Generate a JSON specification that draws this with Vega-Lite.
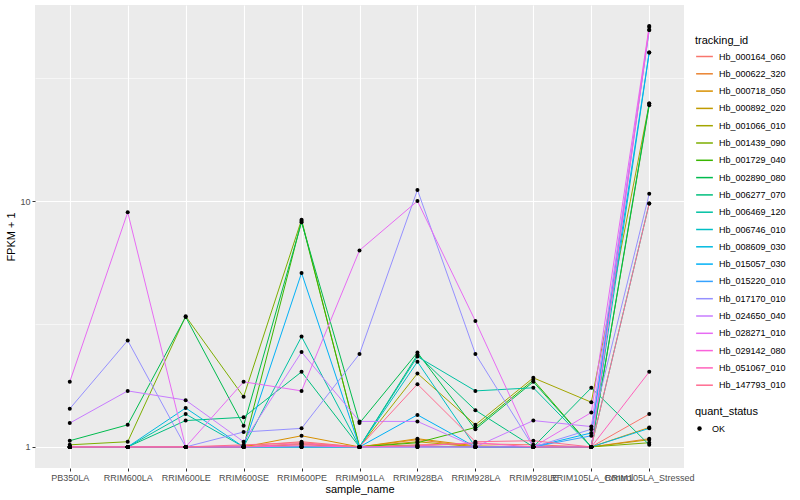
{
  "$schema": "https://vega.github.io/schema/vega-lite/v6.json",
  "width": 649,
  "height": 463,
  "autosize": {"type": "none"},
  "padding": {"left": 35, "top": 5, "right": 116, "bottom": 32},
  "background": "white",
  "config": {
    "font": "Liberation Sans",
    "view": {"fill": "#EBEBEB", "stroke": null},
    "axis": {"domain": false, "gridColor": "white", "tickColor": "#333333", "tickSize": 3, "labelColor": "#4D4D4D", "labelFontSize": 9, "titleFontSize": 11, "titleFontWeight": "normal", "titleColor": "black", "labelPadding": 2},
    "legend": {"orient": "none", "titleFontSize": 11, "titleFontWeight": "normal", "titleColor": "black", "labelFontSize": 9, "labelColor": "black", "rowPadding": 2.3, "titlePadding": 1}
  },
  "data": {"values": [
    {"tracking_id":"Hb_000164_060","sample_name":"PB350LA","fpkm":1.0,"quant_status":"OK"},
    {"tracking_id":"Hb_000164_060","sample_name":"RRIM600LA","fpkm":1.0,"quant_status":"OK"},
    {"tracking_id":"Hb_000164_060","sample_name":"RRIM600LE","fpkm":1.0,"quant_status":"OK"},
    {"tracking_id":"Hb_000164_060","sample_name":"RRIM600SE","fpkm":1.01,"quant_status":"OK"},
    {"tracking_id":"Hb_000164_060","sample_name":"RRIM600PE","fpkm":1.05,"quant_status":"OK"},
    {"tracking_id":"Hb_000164_060","sample_name":"RRIM901LA","fpkm":1.0,"quant_status":"OK"},
    {"tracking_id":"Hb_000164_060","sample_name":"RRIM928BA","fpkm":1.02,"quant_status":"OK"},
    {"tracking_id":"Hb_000164_060","sample_name":"RRIM928LA","fpkm":1.03,"quant_status":"OK"},
    {"tracking_id":"Hb_000164_060","sample_name":"RRIM928LE","fpkm":1.02,"quant_status":"OK"},
    {"tracking_id":"Hb_000164_060","sample_name":"RRIM105LA_Control","fpkm":1.0,"quant_status":"OK"},
    {"tracking_id":"Hb_000164_060","sample_name":"RRIM105LA_Stressed","fpkm":1.36,"quant_status":"OK"},
    {"tracking_id":"Hb_000622_320","sample_name":"PB350LA","fpkm":1.0,"quant_status":"OK"},
    {"tracking_id":"Hb_000622_320","sample_name":"RRIM600LA","fpkm":1.0,"quant_status":"OK"},
    {"tracking_id":"Hb_000622_320","sample_name":"RRIM600LE","fpkm":1.0,"quant_status":"OK"},
    {"tracking_id":"Hb_000622_320","sample_name":"RRIM600SE","fpkm":1.0,"quant_status":"OK"},
    {"tracking_id":"Hb_000622_320","sample_name":"RRIM600PE","fpkm":1.02,"quant_status":"OK"},
    {"tracking_id":"Hb_000622_320","sample_name":"RRIM901LA","fpkm":1.0,"quant_status":"OK"},
    {"tracking_id":"Hb_000622_320","sample_name":"RRIM928BA","fpkm":1.07,"quant_status":"OK"},
    {"tracking_id":"Hb_000622_320","sample_name":"RRIM928LA","fpkm":1.0,"quant_status":"OK"},
    {"tracking_id":"Hb_000622_320","sample_name":"RRIM928LE","fpkm":1.0,"quant_status":"OK"},
    {"tracking_id":"Hb_000622_320","sample_name":"RRIM105LA_Control","fpkm":1.0,"quant_status":"OK"},
    {"tracking_id":"Hb_000622_320","sample_name":"RRIM105LA_Stressed","fpkm":1.08,"quant_status":"OK"},
    {"tracking_id":"Hb_000718_050","sample_name":"PB350LA","fpkm":1.0,"quant_status":"OK"},
    {"tracking_id":"Hb_000718_050","sample_name":"RRIM600LA","fpkm":1.0,"quant_status":"OK"},
    {"tracking_id":"Hb_000718_050","sample_name":"RRIM600LE","fpkm":1.0,"quant_status":"OK"},
    {"tracking_id":"Hb_000718_050","sample_name":"RRIM600SE","fpkm":1.0,"quant_status":"OK"},
    {"tracking_id":"Hb_000718_050","sample_name":"RRIM600PE","fpkm":1.11,"quant_status":"OK"},
    {"tracking_id":"Hb_000718_050","sample_name":"RRIM901LA","fpkm":1.0,"quant_status":"OK"},
    {"tracking_id":"Hb_000718_050","sample_name":"RRIM928BA","fpkm":1.08,"quant_status":"OK"},
    {"tracking_id":"Hb_000718_050","sample_name":"RRIM928LA","fpkm":1.01,"quant_status":"OK"},
    {"tracking_id":"Hb_000718_050","sample_name":"RRIM928LE","fpkm":1.0,"quant_status":"OK"},
    {"tracking_id":"Hb_000718_050","sample_name":"RRIM105LA_Control","fpkm":1.0,"quant_status":"OK"},
    {"tracking_id":"Hb_000718_050","sample_name":"RRIM105LA_Stressed","fpkm":1.2,"quant_status":"OK"},
    {"tracking_id":"Hb_000892_020","sample_name":"PB350LA","fpkm":1.0,"quant_status":"OK"},
    {"tracking_id":"Hb_000892_020","sample_name":"RRIM600LA","fpkm":1.0,"quant_status":"OK"},
    {"tracking_id":"Hb_000892_020","sample_name":"RRIM600LE","fpkm":1.0,"quant_status":"OK"},
    {"tracking_id":"Hb_000892_020","sample_name":"RRIM600SE","fpkm":1.0,"quant_status":"OK"},
    {"tracking_id":"Hb_000892_020","sample_name":"RRIM600PE","fpkm":1.03,"quant_status":"OK"},
    {"tracking_id":"Hb_000892_020","sample_name":"RRIM901LA","fpkm":1.0,"quant_status":"OK"},
    {"tracking_id":"Hb_000892_020","sample_name":"RRIM928BA","fpkm":1.05,"quant_status":"OK"},
    {"tracking_id":"Hb_000892_020","sample_name":"RRIM928LA","fpkm":1.0,"quant_status":"OK"},
    {"tracking_id":"Hb_000892_020","sample_name":"RRIM928LE","fpkm":1.0,"quant_status":"OK"},
    {"tracking_id":"Hb_000892_020","sample_name":"RRIM105LA_Control","fpkm":1.0,"quant_status":"OK"},
    {"tracking_id":"Hb_000892_020","sample_name":"RRIM105LA_Stressed","fpkm":1.07,"quant_status":"OK"},
    {"tracking_id":"Hb_001066_010","sample_name":"PB350LA","fpkm":1.0,"quant_status":"OK"},
    {"tracking_id":"Hb_001066_010","sample_name":"RRIM600LA","fpkm":1.0,"quant_status":"OK"},
    {"tracking_id":"Hb_001066_010","sample_name":"RRIM600LE","fpkm":1.0,"quant_status":"OK"},
    {"tracking_id":"Hb_001066_010","sample_name":"RRIM600SE","fpkm":1.0,"quant_status":"OK"},
    {"tracking_id":"Hb_001066_010","sample_name":"RRIM600PE","fpkm":1.0,"quant_status":"OK"},
    {"tracking_id":"Hb_001066_010","sample_name":"RRIM901LA","fpkm":1.0,"quant_status":"OK"},
    {"tracking_id":"Hb_001066_010","sample_name":"RRIM928BA","fpkm":1.99,"quant_status":"OK"},
    {"tracking_id":"Hb_001066_010","sample_name":"RRIM928LA","fpkm":1.23,"quant_status":"OK"},
    {"tracking_id":"Hb_001066_010","sample_name":"RRIM928LE","fpkm":1.91,"quant_status":"OK"},
    {"tracking_id":"Hb_001066_010","sample_name":"RRIM105LA_Control","fpkm":1.52,"quant_status":"OK"},
    {"tracking_id":"Hb_001066_010","sample_name":"RRIM105LA_Stressed","fpkm":24.9,"quant_status":"OK"},
    {"tracking_id":"Hb_001439_090","sample_name":"PB350LA","fpkm":1.02,"quant_status":"OK"},
    {"tracking_id":"Hb_001439_090","sample_name":"RRIM600LA","fpkm":1.05,"quant_status":"OK"},
    {"tracking_id":"Hb_001439_090","sample_name":"RRIM600LE","fpkm":3.4,"quant_status":"OK"},
    {"tracking_id":"Hb_001439_090","sample_name":"RRIM600SE","fpkm":1.6,"quant_status":"OK"},
    {"tracking_id":"Hb_001439_090","sample_name":"RRIM600PE","fpkm":8.4,"quant_status":"OK"},
    {"tracking_id":"Hb_001439_090","sample_name":"RRIM901LA","fpkm":1.0,"quant_status":"OK"},
    {"tracking_id":"Hb_001439_090","sample_name":"RRIM928BA","fpkm":1.01,"quant_status":"OK"},
    {"tracking_id":"Hb_001439_090","sample_name":"RRIM928LA","fpkm":1.0,"quant_status":"OK"},
    {"tracking_id":"Hb_001439_090","sample_name":"RRIM928LE","fpkm":1.0,"quant_status":"OK"},
    {"tracking_id":"Hb_001439_090","sample_name":"RRIM105LA_Control","fpkm":1.0,"quant_status":"OK"},
    {"tracking_id":"Hb_001439_090","sample_name":"RRIM105LA_Stressed","fpkm":1.04,"quant_status":"OK"},
    {"tracking_id":"Hb_001729_040","sample_name":"PB350LA","fpkm":1.0,"quant_status":"OK"},
    {"tracking_id":"Hb_001729_040","sample_name":"RRIM600LA","fpkm":1.0,"quant_status":"OK"},
    {"tracking_id":"Hb_001729_040","sample_name":"RRIM600LE","fpkm":1.0,"quant_status":"OK"},
    {"tracking_id":"Hb_001729_040","sample_name":"RRIM600SE","fpkm":1.0,"quant_status":"OK"},
    {"tracking_id":"Hb_001729_040","sample_name":"RRIM600PE","fpkm":8.3,"quant_status":"OK"},
    {"tracking_id":"Hb_001729_040","sample_name":"RRIM901LA","fpkm":1.0,"quant_status":"OK"},
    {"tracking_id":"Hb_001729_040","sample_name":"RRIM928BA","fpkm":1.04,"quant_status":"OK"},
    {"tracking_id":"Hb_001729_040","sample_name":"RRIM928LA","fpkm":1.2,"quant_status":"OK"},
    {"tracking_id":"Hb_001729_040","sample_name":"RRIM928LE","fpkm":1.87,"quant_status":"OK"},
    {"tracking_id":"Hb_001729_040","sample_name":"RRIM105LA_Control","fpkm":1.0,"quant_status":"OK"},
    {"tracking_id":"Hb_001729_040","sample_name":"RRIM105LA_Stressed","fpkm":24.5,"quant_status":"OK"},
    {"tracking_id":"Hb_002890_080","sample_name":"PB350LA","fpkm":1.06,"quant_status":"OK"},
    {"tracking_id":"Hb_002890_080","sample_name":"RRIM600LA","fpkm":1.23,"quant_status":"OK"},
    {"tracking_id":"Hb_002890_080","sample_name":"RRIM600LE","fpkm":3.38,"quant_status":"OK"},
    {"tracking_id":"Hb_002890_080","sample_name":"RRIM600SE","fpkm":1.22,"quant_status":"OK"},
    {"tracking_id":"Hb_002890_080","sample_name":"RRIM600PE","fpkm":8.2,"quant_status":"OK"},
    {"tracking_id":"Hb_002890_080","sample_name":"RRIM901LA","fpkm":1.25,"quant_status":"OK"},
    {"tracking_id":"Hb_002890_080","sample_name":"RRIM928BA","fpkm":2.42,"quant_status":"OK"},
    {"tracking_id":"Hb_002890_080","sample_name":"RRIM928LA","fpkm":1.18,"quant_status":"OK"},
    {"tracking_id":"Hb_002890_080","sample_name":"RRIM928LE","fpkm":1.84,"quant_status":"OK"},
    {"tracking_id":"Hb_002890_080","sample_name":"RRIM105LA_Control","fpkm":1.0,"quant_status":"OK"},
    {"tracking_id":"Hb_002890_080","sample_name":"RRIM105LA_Stressed","fpkm":24.9,"quant_status":"OK"},
    {"tracking_id":"Hb_006277_070","sample_name":"PB350LA","fpkm":1.0,"quant_status":"OK"},
    {"tracking_id":"Hb_006277_070","sample_name":"RRIM600LA","fpkm":1.0,"quant_status":"OK"},
    {"tracking_id":"Hb_006277_070","sample_name":"RRIM600LE","fpkm":1.28,"quant_status":"OK"},
    {"tracking_id":"Hb_006277_070","sample_name":"RRIM600SE","fpkm":1.32,"quant_status":"OK"},
    {"tracking_id":"Hb_006277_070","sample_name":"RRIM600PE","fpkm":2.02,"quant_status":"OK"},
    {"tracking_id":"Hb_006277_070","sample_name":"RRIM901LA","fpkm":1.0,"quant_status":"OK"},
    {"tracking_id":"Hb_006277_070","sample_name":"RRIM928BA","fpkm":2.37,"quant_status":"OK"},
    {"tracking_id":"Hb_006277_070","sample_name":"RRIM928LA","fpkm":1.41,"quant_status":"OK"},
    {"tracking_id":"Hb_006277_070","sample_name":"RRIM928LE","fpkm":1.0,"quant_status":"OK"},
    {"tracking_id":"Hb_006277_070","sample_name":"RRIM105LA_Control","fpkm":1.74,"quant_status":"OK"},
    {"tracking_id":"Hb_006277_070","sample_name":"RRIM105LA_Stressed","fpkm":1.02,"quant_status":"OK"},
    {"tracking_id":"Hb_006469_120","sample_name":"PB350LA","fpkm":1.0,"quant_status":"OK"},
    {"tracking_id":"Hb_006469_120","sample_name":"RRIM600LA","fpkm":1.0,"quant_status":"OK"},
    {"tracking_id":"Hb_006469_120","sample_name":"RRIM600LE","fpkm":1.36,"quant_status":"OK"},
    {"tracking_id":"Hb_006469_120","sample_name":"RRIM600SE","fpkm":1.0,"quant_status":"OK"},
    {"tracking_id":"Hb_006469_120","sample_name":"RRIM600PE","fpkm":2.81,"quant_status":"OK"},
    {"tracking_id":"Hb_006469_120","sample_name":"RRIM901LA","fpkm":1.0,"quant_status":"OK"},
    {"tracking_id":"Hb_006469_120","sample_name":"RRIM928BA","fpkm":2.33,"quant_status":"OK"},
    {"tracking_id":"Hb_006469_120","sample_name":"RRIM928LA","fpkm":1.69,"quant_status":"OK"},
    {"tracking_id":"Hb_006469_120","sample_name":"RRIM928LE","fpkm":1.74,"quant_status":"OK"},
    {"tracking_id":"Hb_006469_120","sample_name":"RRIM105LA_Control","fpkm":1.0,"quant_status":"OK"},
    {"tracking_id":"Hb_006469_120","sample_name":"RRIM105LA_Stressed","fpkm":9.77,"quant_status":"OK"},
    {"tracking_id":"Hb_006746_010","sample_name":"PB350LA","fpkm":1.0,"quant_status":"OK"},
    {"tracking_id":"Hb_006746_010","sample_name":"RRIM600LA","fpkm":1.0,"quant_status":"OK"},
    {"tracking_id":"Hb_006746_010","sample_name":"RRIM600LE","fpkm":1.0,"quant_status":"OK"},
    {"tracking_id":"Hb_006746_010","sample_name":"RRIM600SE","fpkm":1.0,"quant_status":"OK"},
    {"tracking_id":"Hb_006746_010","sample_name":"RRIM600PE","fpkm":1.0,"quant_status":"OK"},
    {"tracking_id":"Hb_006746_010","sample_name":"RRIM901LA","fpkm":1.0,"quant_status":"OK"},
    {"tracking_id":"Hb_006746_010","sample_name":"RRIM928BA","fpkm":2.22,"quant_status":"OK"},
    {"tracking_id":"Hb_006746_010","sample_name":"RRIM928LA","fpkm":1.0,"quant_status":"OK"},
    {"tracking_id":"Hb_006746_010","sample_name":"RRIM928LE","fpkm":1.0,"quant_status":"OK"},
    {"tracking_id":"Hb_006746_010","sample_name":"RRIM105LA_Control","fpkm":1.0,"quant_status":"OK"},
    {"tracking_id":"Hb_006746_010","sample_name":"RRIM105LA_Stressed","fpkm":40.2,"quant_status":"OK"},
    {"tracking_id":"Hb_008609_030","sample_name":"PB350LA","fpkm":1.0,"quant_status":"OK"},
    {"tracking_id":"Hb_008609_030","sample_name":"RRIM600LA","fpkm":1.0,"quant_status":"OK"},
    {"tracking_id":"Hb_008609_030","sample_name":"RRIM600LE","fpkm":1.44,"quant_status":"OK"},
    {"tracking_id":"Hb_008609_030","sample_name":"RRIM600SE","fpkm":1.0,"quant_status":"OK"},
    {"tracking_id":"Hb_008609_030","sample_name":"RRIM600PE","fpkm":1.0,"quant_status":"OK"},
    {"tracking_id":"Hb_008609_030","sample_name":"RRIM901LA","fpkm":1.0,"quant_status":"OK"},
    {"tracking_id":"Hb_008609_030","sample_name":"RRIM928BA","fpkm":1.0,"quant_status":"OK"},
    {"tracking_id":"Hb_008609_030","sample_name":"RRIM928LA","fpkm":1.0,"quant_status":"OK"},
    {"tracking_id":"Hb_008609_030","sample_name":"RRIM928LE","fpkm":1.0,"quant_status":"OK"},
    {"tracking_id":"Hb_008609_030","sample_name":"RRIM105LA_Control","fpkm":1.0,"quant_status":"OK"},
    {"tracking_id":"Hb_008609_030","sample_name":"RRIM105LA_Stressed","fpkm":1.19,"quant_status":"OK"},
    {"tracking_id":"Hb_015057_030","sample_name":"PB350LA","fpkm":1.0,"quant_status":"OK"},
    {"tracking_id":"Hb_015057_030","sample_name":"RRIM600LA","fpkm":1.0,"quant_status":"OK"},
    {"tracking_id":"Hb_015057_030","sample_name":"RRIM600LE","fpkm":1.0,"quant_status":"OK"},
    {"tracking_id":"Hb_015057_030","sample_name":"RRIM600SE","fpkm":1.0,"quant_status":"OK"},
    {"tracking_id":"Hb_015057_030","sample_name":"RRIM600PE","fpkm":5.1,"quant_status":"OK"},
    {"tracking_id":"Hb_015057_030","sample_name":"RRIM901LA","fpkm":1.0,"quant_status":"OK"},
    {"tracking_id":"Hb_015057_030","sample_name":"RRIM928BA","fpkm":1.35,"quant_status":"OK"},
    {"tracking_id":"Hb_015057_030","sample_name":"RRIM928LA","fpkm":1.0,"quant_status":"OK"},
    {"tracking_id":"Hb_015057_030","sample_name":"RRIM928LE","fpkm":1.0,"quant_status":"OK"},
    {"tracking_id":"Hb_015057_030","sample_name":"RRIM105LA_Control","fpkm":1.14,"quant_status":"OK"},
    {"tracking_id":"Hb_015057_030","sample_name":"RRIM105LA_Stressed","fpkm":40.2,"quant_status":"OK"},
    {"tracking_id":"Hb_015220_010","sample_name":"PB350LA","fpkm":1.0,"quant_status":"OK"},
    {"tracking_id":"Hb_015220_010","sample_name":"RRIM600LA","fpkm":1.0,"quant_status":"OK"},
    {"tracking_id":"Hb_015220_010","sample_name":"RRIM600LE","fpkm":1.0,"quant_status":"OK"},
    {"tracking_id":"Hb_015220_010","sample_name":"RRIM600SE","fpkm":1.0,"quant_status":"OK"},
    {"tracking_id":"Hb_015220_010","sample_name":"RRIM600PE","fpkm":1.0,"quant_status":"OK"},
    {"tracking_id":"Hb_015220_010","sample_name":"RRIM901LA","fpkm":1.0,"quant_status":"OK"},
    {"tracking_id":"Hb_015220_010","sample_name":"RRIM928BA","fpkm":1.0,"quant_status":"OK"},
    {"tracking_id":"Hb_015220_010","sample_name":"RRIM928LA","fpkm":1.0,"quant_status":"OK"},
    {"tracking_id":"Hb_015220_010","sample_name":"RRIM928LE","fpkm":1.0,"quant_status":"OK"},
    {"tracking_id":"Hb_015220_010","sample_name":"RRIM105LA_Control","fpkm":1.11,"quant_status":"OK"},
    {"tracking_id":"Hb_015220_010","sample_name":"RRIM105LA_Stressed","fpkm":49.6,"quant_status":"OK"},
    {"tracking_id":"Hb_017170_010","sample_name":"PB350LA","fpkm":1.43,"quant_status":"OK"},
    {"tracking_id":"Hb_017170_010","sample_name":"RRIM600LA","fpkm":2.71,"quant_status":"OK"},
    {"tracking_id":"Hb_017170_010","sample_name":"RRIM600LE","fpkm":1.0,"quant_status":"OK"},
    {"tracking_id":"Hb_017170_010","sample_name":"RRIM600SE","fpkm":1.15,"quant_status":"OK"},
    {"tracking_id":"Hb_017170_010","sample_name":"RRIM600PE","fpkm":1.19,"quant_status":"OK"},
    {"tracking_id":"Hb_017170_010","sample_name":"RRIM901LA","fpkm":2.39,"quant_status":"OK"},
    {"tracking_id":"Hb_017170_010","sample_name":"RRIM928BA","fpkm":11.1,"quant_status":"OK"},
    {"tracking_id":"Hb_017170_010","sample_name":"RRIM928LA","fpkm":2.39,"quant_status":"OK"},
    {"tracking_id":"Hb_017170_010","sample_name":"RRIM928LE","fpkm":1.0,"quant_status":"OK"},
    {"tracking_id":"Hb_017170_010","sample_name":"RRIM105LA_Control","fpkm":1.18,"quant_status":"OK"},
    {"tracking_id":"Hb_017170_010","sample_name":"RRIM105LA_Stressed","fpkm":10.7,"quant_status":"OK"},
    {"tracking_id":"Hb_024650_040","sample_name":"PB350LA","fpkm":1.25,"quant_status":"OK"},
    {"tracking_id":"Hb_024650_040","sample_name":"RRIM600LA","fpkm":1.69,"quant_status":"OK"},
    {"tracking_id":"Hb_024650_040","sample_name":"RRIM600LE","fpkm":1.55,"quant_status":"OK"},
    {"tracking_id":"Hb_024650_040","sample_name":"RRIM600SE","fpkm":1.05,"quant_status":"OK"},
    {"tracking_id":"Hb_024650_040","sample_name":"RRIM600PE","fpkm":2.43,"quant_status":"OK"},
    {"tracking_id":"Hb_024650_040","sample_name":"RRIM901LA","fpkm":1.27,"quant_status":"OK"},
    {"tracking_id":"Hb_024650_040","sample_name":"RRIM928BA","fpkm":1.27,"quant_status":"OK"},
    {"tracking_id":"Hb_024650_040","sample_name":"RRIM928LA","fpkm":1.0,"quant_status":"OK"},
    {"tracking_id":"Hb_024650_040","sample_name":"RRIM928LE","fpkm":1.28,"quant_status":"OK"},
    {"tracking_id":"Hb_024650_040","sample_name":"RRIM105LA_Control","fpkm":1.21,"quant_status":"OK"},
    {"tracking_id":"Hb_024650_040","sample_name":"RRIM105LA_Stressed","fpkm":49.6,"quant_status":"OK"},
    {"tracking_id":"Hb_028271_010","sample_name":"PB350LA","fpkm":1.84,"quant_status":"OK"},
    {"tracking_id":"Hb_028271_010","sample_name":"RRIM600LA","fpkm":9.0,"quant_status":"OK"},
    {"tracking_id":"Hb_028271_010","sample_name":"RRIM600LE","fpkm":1.0,"quant_status":"OK"},
    {"tracking_id":"Hb_028271_010","sample_name":"RRIM600SE","fpkm":1.84,"quant_status":"OK"},
    {"tracking_id":"Hb_028271_010","sample_name":"RRIM600PE","fpkm":1.69,"quant_status":"OK"},
    {"tracking_id":"Hb_028271_010","sample_name":"RRIM901LA","fpkm":6.3,"quant_status":"OK"},
    {"tracking_id":"Hb_028271_010","sample_name":"RRIM928BA","fpkm":10.0,"quant_status":"OK"},
    {"tracking_id":"Hb_028271_010","sample_name":"RRIM928LA","fpkm":3.25,"quant_status":"OK"},
    {"tracking_id":"Hb_028271_010","sample_name":"RRIM928LE","fpkm":1.0,"quant_status":"OK"},
    {"tracking_id":"Hb_028271_010","sample_name":"RRIM105LA_Control","fpkm":1.38,"quant_status":"OK"},
    {"tracking_id":"Hb_028271_010","sample_name":"RRIM105LA_Stressed","fpkm":51.5,"quant_status":"OK"},
    {"tracking_id":"Hb_029142_080","sample_name":"PB350LA","fpkm":1.0,"quant_status":"OK"},
    {"tracking_id":"Hb_029142_080","sample_name":"RRIM600LA","fpkm":1.0,"quant_status":"OK"},
    {"tracking_id":"Hb_029142_080","sample_name":"RRIM600LE","fpkm":1.0,"quant_status":"OK"},
    {"tracking_id":"Hb_029142_080","sample_name":"RRIM600SE","fpkm":1.0,"quant_status":"OK"},
    {"tracking_id":"Hb_029142_080","sample_name":"RRIM600PE","fpkm":1.01,"quant_status":"OK"},
    {"tracking_id":"Hb_029142_080","sample_name":"RRIM901LA","fpkm":1.0,"quant_status":"OK"},
    {"tracking_id":"Hb_029142_080","sample_name":"RRIM928BA","fpkm":1.0,"quant_status":"OK"},
    {"tracking_id":"Hb_029142_080","sample_name":"RRIM928LA","fpkm":1.0,"quant_status":"OK"},
    {"tracking_id":"Hb_029142_080","sample_name":"RRIM928LE","fpkm":1.0,"quant_status":"OK"},
    {"tracking_id":"Hb_029142_080","sample_name":"RRIM105LA_Control","fpkm":1.0,"quant_status":"OK"},
    {"tracking_id":"Hb_029142_080","sample_name":"RRIM105LA_Stressed","fpkm":51.0,"quant_status":"OK"},
    {"tracking_id":"Hb_051067_010","sample_name":"PB350LA","fpkm":1.0,"quant_status":"OK"},
    {"tracking_id":"Hb_051067_010","sample_name":"RRIM600LA","fpkm":1.0,"quant_status":"OK"},
    {"tracking_id":"Hb_051067_010","sample_name":"RRIM600LE","fpkm":1.0,"quant_status":"OK"},
    {"tracking_id":"Hb_051067_010","sample_name":"RRIM600SE","fpkm":1.0,"quant_status":"OK"},
    {"tracking_id":"Hb_051067_010","sample_name":"RRIM600PE","fpkm":1.03,"quant_status":"OK"},
    {"tracking_id":"Hb_051067_010","sample_name":"RRIM901LA","fpkm":1.0,"quant_status":"OK"},
    {"tracking_id":"Hb_051067_010","sample_name":"RRIM928BA","fpkm":1.01,"quant_status":"OK"},
    {"tracking_id":"Hb_051067_010","sample_name":"RRIM928LA","fpkm":1.04,"quant_status":"OK"},
    {"tracking_id":"Hb_051067_010","sample_name":"RRIM928LE","fpkm":1.0,"quant_status":"OK"},
    {"tracking_id":"Hb_051067_010","sample_name":"RRIM105LA_Control","fpkm":1.0,"quant_status":"OK"},
    {"tracking_id":"Hb_051067_010","sample_name":"RRIM105LA_Stressed","fpkm":2.02,"quant_status":"OK"},
    {"tracking_id":"Hb_147793_010","sample_name":"PB350LA","fpkm":1.0,"quant_status":"OK"},
    {"tracking_id":"Hb_147793_010","sample_name":"RRIM600LA","fpkm":1.0,"quant_status":"OK"},
    {"tracking_id":"Hb_147793_010","sample_name":"RRIM600LE","fpkm":1.0,"quant_status":"OK"},
    {"tracking_id":"Hb_147793_010","sample_name":"RRIM600SE","fpkm":1.02,"quant_status":"OK"},
    {"tracking_id":"Hb_147793_010","sample_name":"RRIM600PE","fpkm":1.04,"quant_status":"OK"},
    {"tracking_id":"Hb_147793_010","sample_name":"RRIM901LA","fpkm":1.0,"quant_status":"OK"},
    {"tracking_id":"Hb_147793_010","sample_name":"RRIM928BA","fpkm":1.8,"quant_status":"OK"},
    {"tracking_id":"Hb_147793_010","sample_name":"RRIM928LA","fpkm":1.05,"quant_status":"OK"},
    {"tracking_id":"Hb_147793_010","sample_name":"RRIM928LE","fpkm":1.06,"quant_status":"OK"},
    {"tracking_id":"Hb_147793_010","sample_name":"RRIM105LA_Control","fpkm":1.0,"quant_status":"OK"},
    {"tracking_id":"Hb_147793_010","sample_name":"RRIM105LA_Stressed","fpkm":9.77,"quant_status":"OK"}
  ]},
  "encoding": {
    "x": {
      "field": "sample_name", "type": "nominal", "title": "sample_name",
      "scale": {"type": "point", "padding": 0.6, "domain": ["PB350LA","RRIM600LA","RRIM600LE","RRIM600SE","RRIM600PE","RRIM901LA","RRIM928BA","RRIM928LA","RRIM928LE","RRIM105LA_Control","RRIM105LA_Stressed"]},
      "axis": {"labelAngle": 0, "labelOverlap": false, "labelFlush": false, "labelBound": false, "grid": true, "gridWidth": 1.1, "titlePadding": 1}
    },
    "y": {
      "field": "fpkm", "type": "quantitative", "title": "FPKM + 1",
      "scale": {"type": "log", "domain": [0.821, 62.7], "nice": false, "zero": false},
      "axis": {
        "values": [1, 3.1623, 10, 31.623],
        "labelExpr": "datum.value == 1 ? '1' : (datum.value == 10 ? '10' : '')",
        "tickOpacity": {"condition": {"test": "datum.value == 1 || datum.value == 10", "value": 1}, "value": 0},
        "gridWidth": {"condition": {"test": "datum.value == 1 || datum.value == 10", "value": 1.1}, "value": 0.55},
        "titlePadding": 3
      }
    }
  },
  "layer": [
    {
      "mark": {"type": "line", "strokeWidth": 1},
      "encoding": {
        "color": {
          "field": "tracking_id", "type": "nominal", "title": "tracking_id",
          "scale": {
            "domain": ["Hb_000164_060","Hb_000622_320","Hb_000718_050","Hb_000892_020","Hb_001066_010","Hb_001439_090","Hb_001729_040","Hb_002890_080","Hb_006277_070","Hb_006469_120","Hb_006746_010","Hb_008609_030","Hb_015057_030","Hb_015220_010","Hb_017170_010","Hb_024650_040","Hb_028271_010","Hb_029142_080","Hb_051067_010","Hb_147793_010"],
            "range": ["#F8766D","#EA8331","#D89000","#C09B00","#A3A500","#7CAE00","#39B600","#00BB4E","#00BF7D","#00C1A3","#00BFC4","#00BAE0","#00B0F6","#35A2FF","#9590FF","#C77CFF","#E76BF3","#FA62DB","#FF62BC","#FF6C91"]
          },
          "legend": {"legendX": 660, "legendY": 30, "symbolType": "stroke", "symbolStrokeWidth": 1.5, "symbolSize": 280, "labelOffset": 5}
        },
        "order": {"value": null}
      }
    },
    {
      "mark": {"type": "point", "filled": true, "color": "black", "size": 16, "opacity": 1},
      "encoding": {
        "shape": {
          "field": "quant_status", "type": "nominal", "title": "quant_status",
          "scale": {"domain": ["OK"], "range": ["circle"]},
          "legend": {"legendX": 660, "legendY": 401, "titlePadding": 7, "symbolFillColor": "black", "symbolStrokeColor": "black", "symbolSize": 20, "symbolOpacity": 1, "labelOffset": 8}
        }
      }
    }
  ]
}
